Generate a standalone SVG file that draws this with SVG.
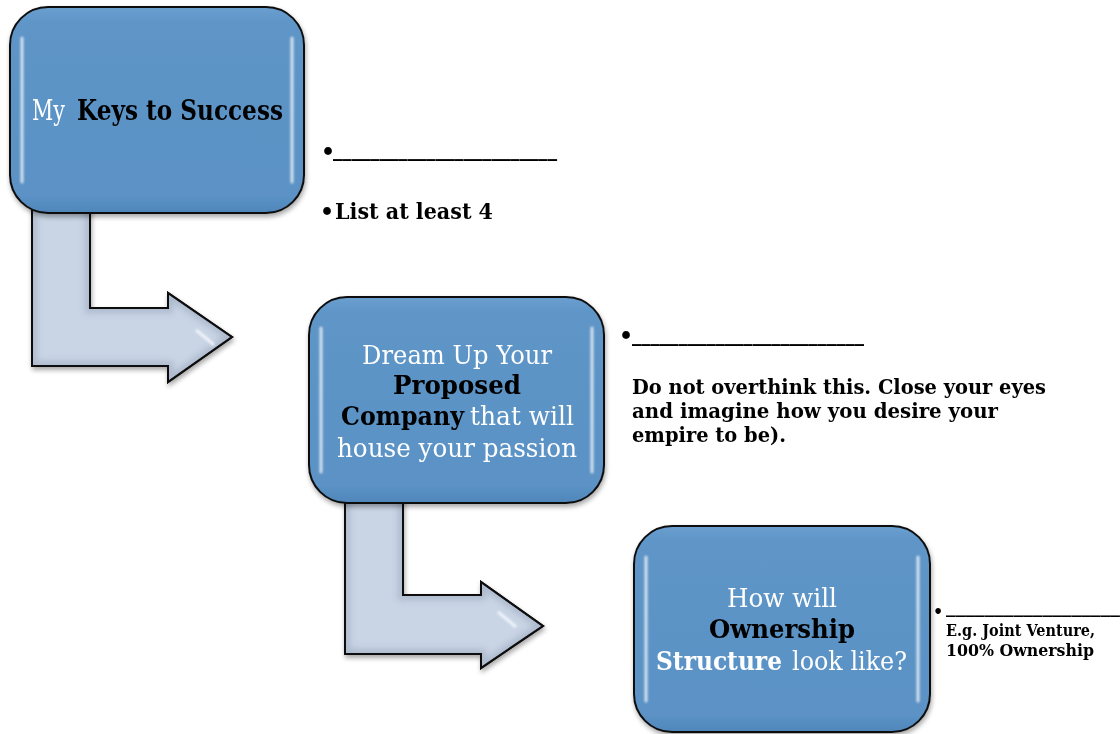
<svg xmlns="http://www.w3.org/2000/svg" width="1120" height="734" viewBox="0 0 1120 734">
  <style>
    text { font-family: "DejaVu Serif", "Liberation Serif", serif; }
    .w { fill: #ffffff; font-weight: normal; }
    .b { fill: #000000; font-weight: bold; }
    .wb { fill: #ffffff; font-weight: bold; }
    .u { fill: #000000; font-weight: bold; }
    .box { fill: url(#boxGrad); stroke: #111111; stroke-width: 2; }
    .shine { fill: none; stroke: #ffffff; stroke-width: 3; stroke-linecap: round; opacity: 0.75; }
    .arrow { fill: #c9d5e5; stroke: #111111; stroke-width: 2; stroke-linejoin: miter; }
    .bevel { fill: none; stroke: #8e9cb2; stroke-width: 10; opacity: 0.45; }
  </style>
  <defs>
    <linearGradient id="boxGrad" x1="0" y1="0" x2="0" y2="1">
      <stop offset="0" stop-color="#6a9fcf"/>
      <stop offset="0.08" stop-color="#5e95c7"/>
      <stop offset="0.92" stop-color="#5b92c5"/>
      <stop offset="1" stop-color="#4f86b9"/>
    </linearGradient>
    <filter id="shadow" x="-10%" y="-10%" width="125%" height="125%">
      <feGaussianBlur in="SourceAlpha" stdDeviation="2.5"/>
      <feOffset dx="1" dy="3" result="o"/>
      <feComponentTransfer><feFuncA type="linear" slope="0.35"/></feComponentTransfer>
      <feMerge><feMergeNode/><feMergeNode in="SourceGraphic"/></feMerge>
    </filter>
    <filter id="soft" x="-20%" y="-20%" width="140%" height="140%">
      <feGaussianBlur stdDeviation="1.2"/>
    </filter>
    <filter id="blur3" x="-20%" y="-20%" width="140%" height="140%">
      <feGaussianBlur stdDeviation="3"/>
    </filter>
    <clipPath id="clipA1"><path d="M32,200 L90,200 L90,308 L168,308 L168,293 L232,337 L168,382 L168,366 L32,366 Z"/></clipPath>
    <clipPath id="clipA2"><path d="M345,490 L403,490 L403,595 L481,595 L481,582 L543,626 L481,668 L481,654 L345,654 Z"/></clipPath>
  </defs>

  <rect x="0" y="0" width="1120" height="734" fill="#ffffff"/>

  <g id="connectors">
    <g id="arrow1" filter="url(#shadow)">
      <path class="arrow" d="M32,200 L90,200 L90,308 L168,308 L168,293 L232,337 L168,382 L168,366 L32,366 Z"/>
      <g clip-path="url(#clipA1)">
        <path class="bevel" filter="url(#blur3)" d="M32,200 L90,200 L90,308 L168,308 L168,293 L232,337 L168,382 L168,366 L32,366 Z"/>
        <path d="M196,330 Q206,338 214,345" stroke="#eef3fa" stroke-width="3" fill="none" filter="url(#soft)"/>
      </g>
      <path d="M32,200 L90,200 L90,308 L168,308 L168,293 L232,337 L168,382 L168,366 L32,366 Z" fill="none" stroke="#111111" stroke-width="2"/>
    </g>
    <g id="arrow2" filter="url(#shadow)">
      <path class="arrow" d="M345,490 L403,490 L403,595 L481,595 L481,582 L543,626 L481,668 L481,654 L345,654 Z"/>
      <g clip-path="url(#clipA2)">
        <path class="bevel" filter="url(#blur3)" d="M345,490 L403,490 L403,595 L481,595 L481,582 L543,626 L481,668 L481,654 L345,654 Z"/>
        <path d="M498,612 Q508,620 516,627" stroke="#eef3fa" stroke-width="3" fill="none" filter="url(#soft)"/>
      </g>
      <path d="M345,490 L403,490 L403,595 L481,595 L481,582 L543,626 L481,668 L481,654 L345,654 Z" fill="none" stroke="#111111" stroke-width="2"/>
    </g>
  </g>

  <g id="node1">
    <rect class="box" x="10" y="7" width="294" height="206" rx="38" ry="38" filter="url(#shadow)"/>
    <g filter="url(#soft)">
      <path class="shine" d="M22,38 L22,182"/>
      <path class="shine" d="M292,38 L292,182" opacity="0.6"/>
    </g>
    <text y="120" font-size="28"><tspan class="w" x="32" textLength="33" lengthAdjust="spacingAndGlyphs">My</tspan><tspan class="b" x="77" textLength="206" lengthAdjust="spacingAndGlyphs">Keys to Success</tspan></text>
  </g>

  <g id="node2">
    <rect class="box" x="309" y="297" width="295" height="206" rx="38" ry="38" filter="url(#shadow)"/>
    <g filter="url(#soft)">
      <path class="shine" d="M321,328 L321,472"/>
      <path class="shine" d="M592,328 L592,472" opacity="0.6"/>
    </g>
    <text class="w" x="362" y="364" font-size="26" textLength="190" lengthAdjust="spacingAndGlyphs">Dream Up Your</text>
    <text class="b" x="393" y="394" font-size="26" textLength="128" lengthAdjust="spacingAndGlyphs">Proposed</text>
    <text y="425" font-size="26"><tspan class="b" x="341" textLength="123" lengthAdjust="spacingAndGlyphs">Company</tspan><tspan class="w" x="470" textLength="104" lengthAdjust="spacingAndGlyphs">that will</tspan></text>
    <text class="w" x="337" y="457" font-size="26" textLength="240" lengthAdjust="spacingAndGlyphs">house your passion</text>
  </g>

  <g id="node3">
    <rect class="box" x="634" y="526" width="296" height="206" rx="38" ry="38" filter="url(#shadow)"/>
    <g filter="url(#soft)">
      <path class="shine" d="M646,557 L646,701"/>
      <path class="shine" d="M918,557 L918,701" opacity="0.6"/>
    </g>
    <text class="w" x="727" y="607" font-size="26" textLength="110" lengthAdjust="spacingAndGlyphs">How will</text>
    <text class="b" x="709" y="638" font-size="26" textLength="146" lengthAdjust="spacingAndGlyphs">Ownership</text>
    <text y="670" font-size="26"><tspan class="wb" x="656" textLength="126" lengthAdjust="spacingAndGlyphs">Structure</tspan><tspan class="w" x="792" textLength="115" lengthAdjust="spacingAndGlyphs">look like?</tspan></text>
  </g>

  <g id="notes1">
    <text class="b" x="321" y="159" font-size="22">•</text>
    <text class="u" x="333" y="156" font-size="20" textLength="224" lengthAdjust="spacingAndGlyphs">________________________</text>
    <text class="b" x="320" y="219" font-size="22">•</text>
    <text class="b" x="335" y="219" font-size="22" textLength="158" lengthAdjust="spacingAndGlyphs">List at least 4</text>
  </g>

  <g id="notes2">
    <text class="b" x="619" y="343" font-size="22">•</text>
    <text class="u" x="632" y="341" font-size="20" textLength="232" lengthAdjust="spacingAndGlyphs">_________________________</text>
    <text class="b" x="632" y="394" font-size="21" textLength="414" lengthAdjust="spacingAndGlyphs">Do not overthink this. Close your eyes</text>
    <text class="b" x="632" y="418" font-size="21" textLength="366" lengthAdjust="spacingAndGlyphs">and imagine how you desire your</text>
    <text class="b" x="632" y="442" font-size="21" textLength="154" lengthAdjust="spacingAndGlyphs">empire to be).</text>
  </g>

  <g id="notes3">
    <text class="b" x="933" y="617" font-size="16">•</text>
    <text class="u" x="946" y="613" font-size="16" textLength="174" lengthAdjust="spacingAndGlyphs">__________________</text>
    <text class="b" x="946" y="636" font-size="16" textLength="149" lengthAdjust="spacingAndGlyphs">E.g. Joint Venture,</text>
    <text class="b" x="946" y="656" font-size="16" textLength="148" lengthAdjust="spacingAndGlyphs">100% Ownership</text>
  </g>
</svg>
